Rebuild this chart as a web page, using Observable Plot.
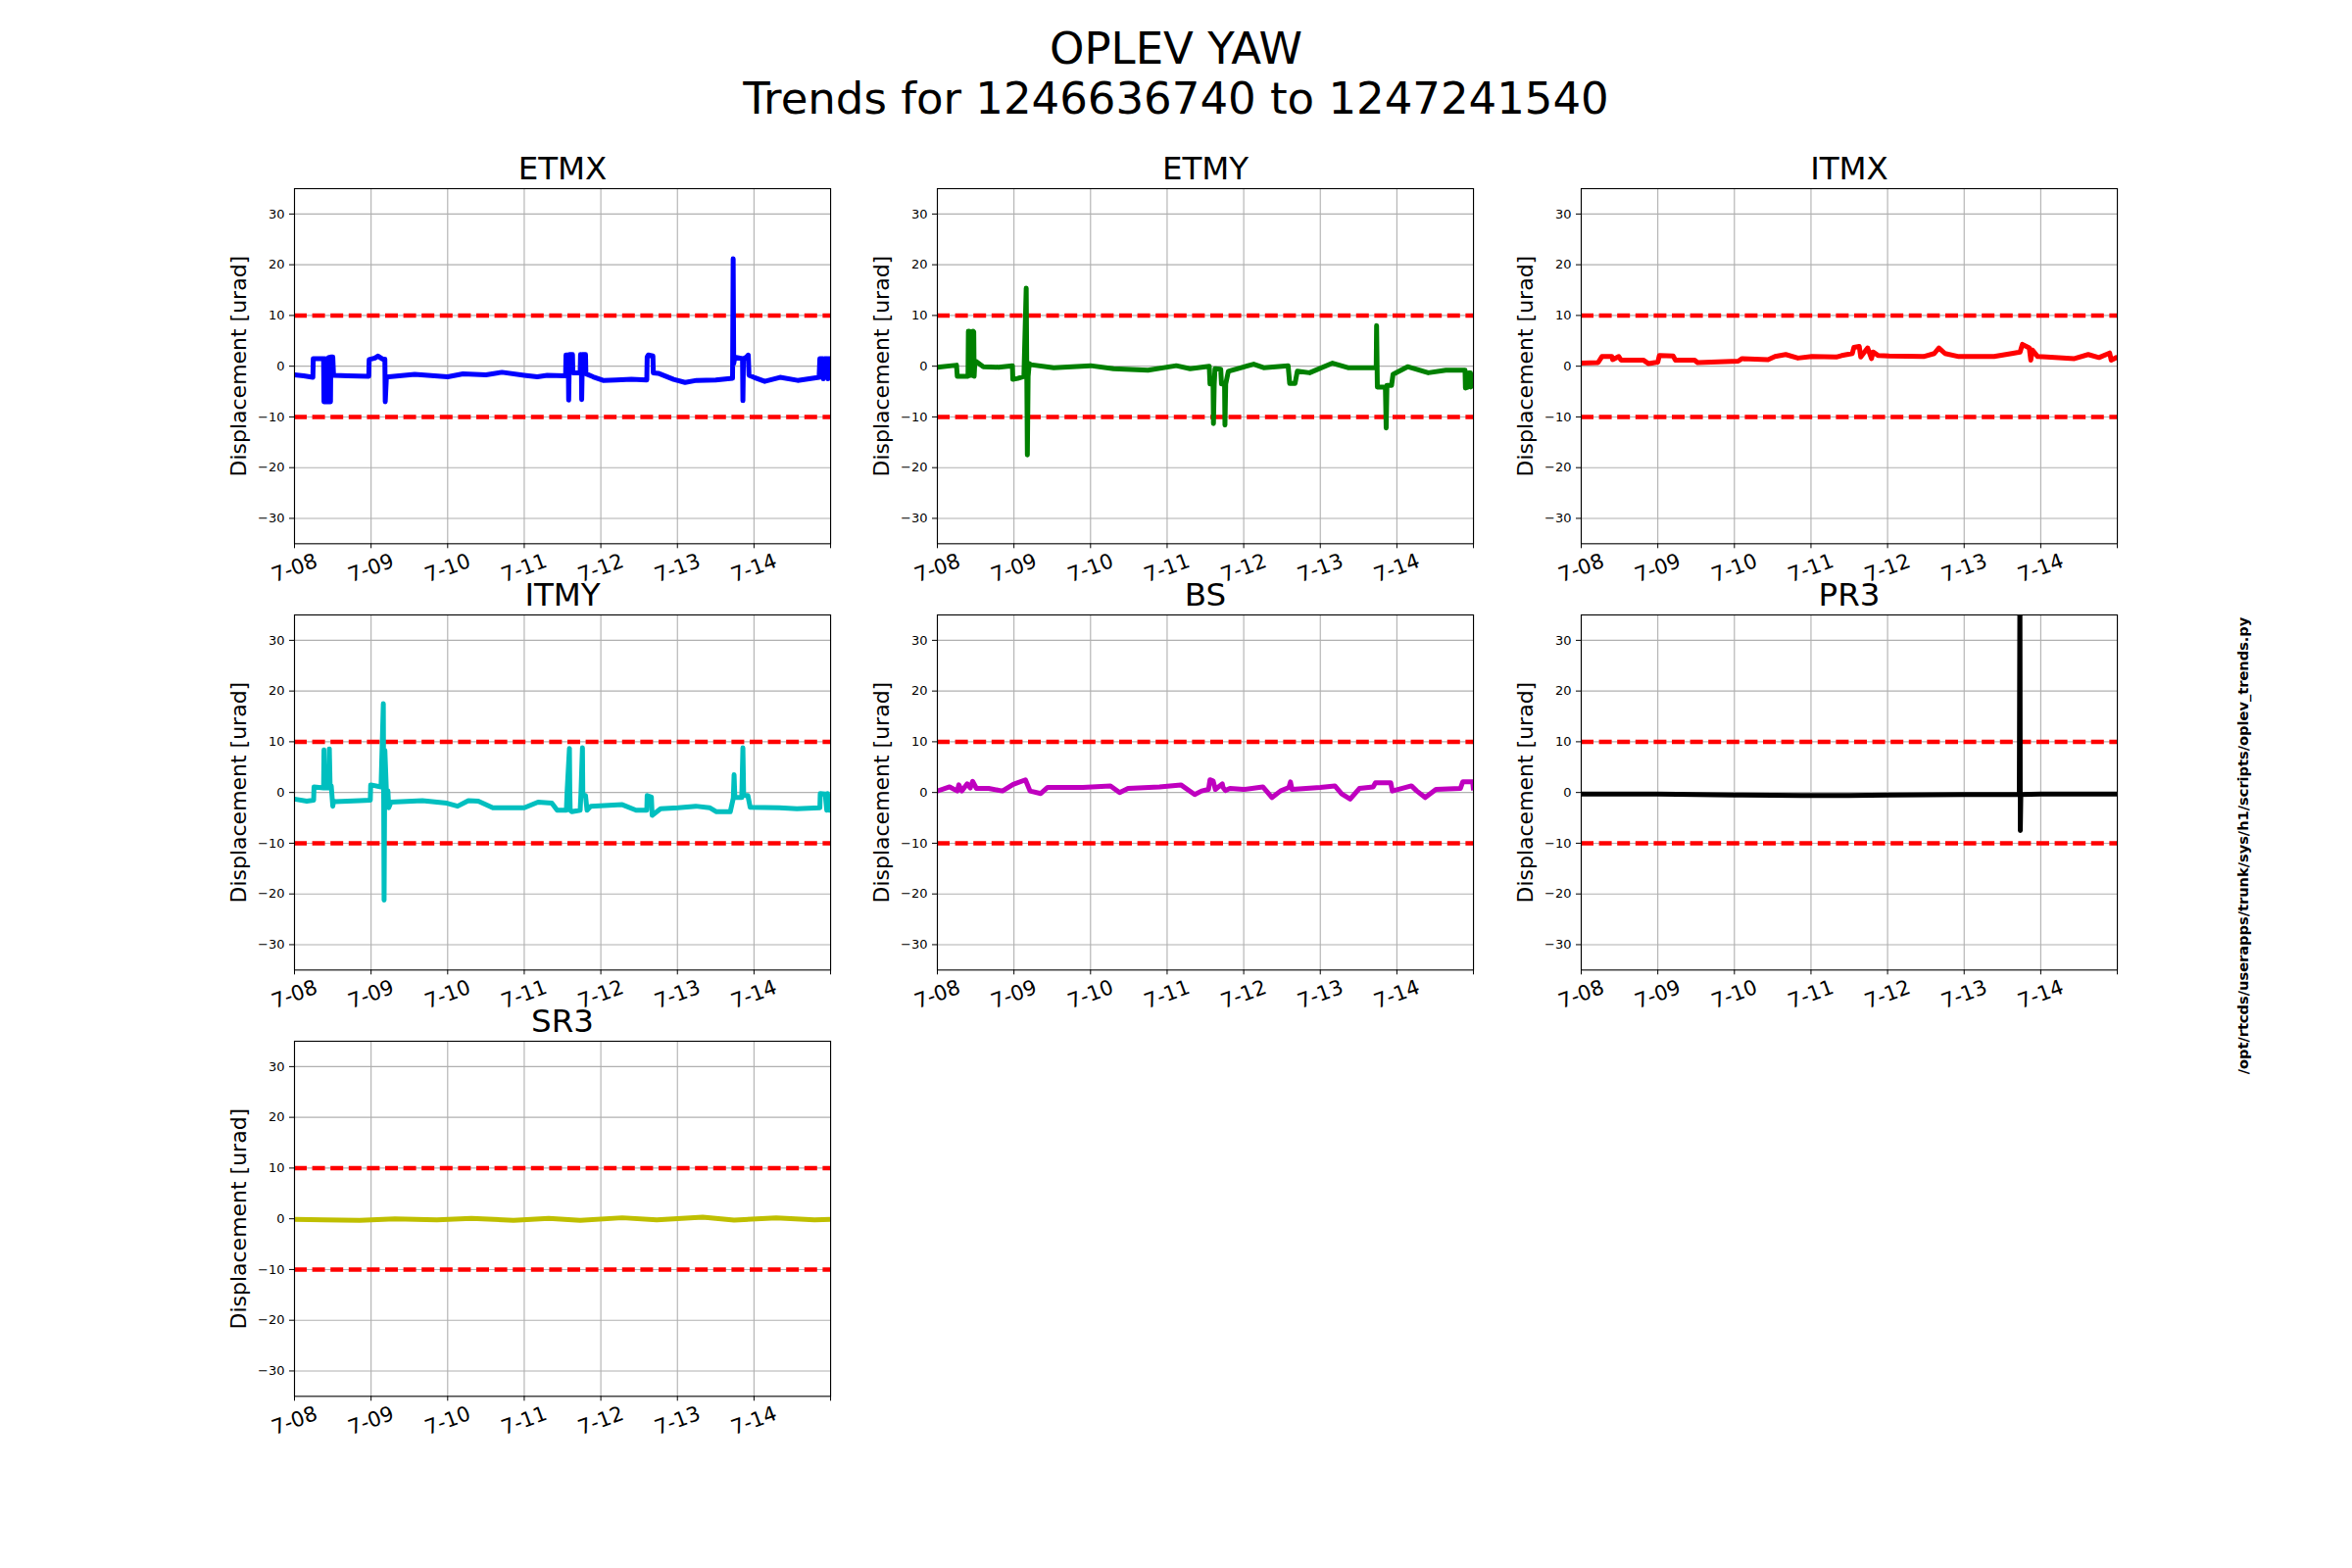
<!DOCTYPE html>
<html><head><meta charset="utf-8">
<script src="https://cdn.jsdelivr.net/npm/d3@7"></script>
<script src="https://cdn.jsdelivr.net/npm/@observablehq/plot@0.6"></script>
<style>
html,body{margin:0;padding:0;background:#fff;}
#fig{position:relative;width:2400px;height:1600px;overflow:hidden;font-family:"DejaVu Sans";background:#fff;}
.panel{position:absolute;}
.panel svg{overflow:visible;}
#overlay{position:absolute;left:0;top:0;pointer-events:none;}
</style></head><body><div id="fig"></div>
<script>
// ---- axes / labels ----
const days = [0,1,2,3,4,5,6,7];
const dayLabels = ["7-08","7-09","7-10","7-11","7-12","7-13","7-14"];
const yTicks = [-30,-20,-10,0,10,20,30];
const limits = [10,-10];
const yLabel = "Displacement [urad]";
const titleLines = ["OPLEV YAW","Trends for 1246636740 to 1247241540"];
const scriptPath = "/opt/rtcds/userapps/trunk/sys/h1/scripts/oplev_trends.py";

// ---- series (time in days since 7-08, yaw in urad) ----
const etmxT = [0,0.12,0.24,0.245,0.38,0.385,0.395,0.41,0.42,0.44,0.45,0.47,0.475,0.5,0.51,0.7,0.97,0.975,1.05,1.09,1.15,1.18,1.185,1.2,1.23,1.57,2.0,2.2,2.5,2.71,3.0,3.17,3.3,3.54,3.545,3.575,3.58,3.59,3.63,3.635,3.73,3.735,3.745,3.75,3.76,3.8,3.805,3.9,4.03,4.2,4.4,4.6,4.605,4.62,4.68,4.685,4.75,4.95,5.1,5.25,5.5,5.72,5.728,5.735,5.75,5.85,5.855,5.862,5.9,5.925,5.935,6.0,6.14,6.34,6.57,6.85,6.86,6.9,6.905,6.92,6.96,6.965,6.975,7.0];
const etmxV = [-1.7,-1.9,-2.2,1.5,1.5,-7,1.5,-7,1.5,-7,1.7,-7,1.8,1.8,-1.8,-1.9,-2.0,1.3,1.6,2.0,1.4,1.4,-7,-2.2,-2.1,-1.6,-2.1,-1.5,-1.7,-1.2,-1.8,-2.1,-1.8,-1.9,2.2,2.2,-6.7,2.3,2.3,-1.3,-1.3,2.3,2.2,-6.6,2.3,2.3,-1.5,-2.1,-2.8,-2.7,-2.6,-2.7,1.8,2.2,2.0,-1.3,-1.4,-2.6,-3.2,-2.8,-2.7,-2.4,21.2,0.5,1.8,1.5,-6.8,1.5,1.8,2.2,-1.8,-2.2,-3.0,-2.2,-2.8,-2.2,1.5,1.5,-2.5,1.5,1.5,-2.5,1.5,1.5];

const etmyT = [0,0.25,0.26,0.4,0.405,0.415,0.42,0.46,0.465,0.475,0.48,0.49,0.5,0.6,0.8,0.98,0.985,1.05,1.13,1.16,1.175,1.185,1.2,1.22,1.52,2.0,2.3,2.75,3.12,3.3,3.55,3.56,3.6,3.605,3.615,3.625,3.7,3.71,3.75,3.755,3.765,3.8,4.13,4.26,4.58,4.6,4.67,4.7,4.86,5.16,5.36,5.73,5.735,5.745,5.85,5.86,5.87,5.93,5.95,6.14,6.41,6.64,6.89,6.895,6.93,6.94,6.96,6.965,7.0];
const etmyV = [-0.2,0.2,-2.0,-2.0,6.9,6.9,-1.8,-1.8,6.9,6.8,-2.0,1.0,1.0,-0.1,-0.2,0.1,-2.6,-2.4,-2.0,15.4,-17.5,-2.0,0.5,0.3,-0.3,0.1,-0.5,-0.8,0.1,-0.5,0.0,-3.5,-3.5,-11.3,-3.5,-0.5,-0.6,-3.5,-3.5,-11.6,-3.5,-1.0,0.4,-0.3,0.1,-3.4,-3.4,-1.0,-1.3,0.6,-0.3,-0.3,8.0,-4.1,-4.1,-12.2,-3.8,-3.8,-1.6,-0.1,-1.3,-0.8,-0.8,-4.3,-4.1,-1.3,-1.3,-4.1,-1.3];

const itmxT = [0,0.22,0.27,0.4,0.41,0.49,0.52,0.81,0.88,1.0,1.02,1.2,1.23,1.48,1.52,2.05,2.1,2.44,2.53,2.67,2.83,3.01,3.33,3.4,3.54,3.56,3.63,3.65,3.74,3.79,3.81,3.88,4.02,4.47,4.61,4.67,4.75,4.93,5.39,5.62,5.73,5.76,5.85,5.87,5.89,5.96,6.08,6.44,6.62,6.76,6.9,6.92,7.0];
const itmxV = [0.6,0.7,1.9,1.9,1.3,1.9,1.2,1.2,0.5,0.8,2.1,2.0,1.2,1.2,0.7,1.0,1.5,1.3,1.9,2.3,1.6,1.9,1.8,2.1,2.5,3.7,3.9,1.8,3.6,1.5,2.8,2.1,2.0,1.9,2.5,3.6,2.5,1.9,1.9,2.5,2.8,4.3,3.6,1.2,3.2,1.9,1.8,1.5,2.3,1.7,2.6,1.2,1.8];

const itmyT = [0,0.16,0.25,0.255,0.38,0.385,0.395,0.4,0.45,0.455,0.465,0.48,0.5,0.51,0.53,0.85,0.99,0.995,1.13,1.16,1.17,1.18,1.2,1.22,1.23,1.26,1.67,1.99,2.13,2.27,2.4,2.59,3.0,3.18,3.36,3.43,3.55,3.56,3.59,3.595,3.6,3.62,3.73,3.74,3.76,3.765,3.8,3.82,3.87,4.28,4.46,4.6,4.605,4.66,4.67,4.78,5.01,5.24,5.42,5.51,5.69,5.73,5.74,5.75,5.84,5.855,5.865,5.92,5.95,6.33,6.56,6.86,6.865,6.93,6.95,6.96,6.98,7.0];
const itmyV = [-1.3,-1.7,-1.5,1.1,0.9,8.4,0.9,0.9,0.9,8.6,1.3,1.3,-2.7,-1.7,-1.8,-1.6,-1.5,1.5,1.1,17.5,-21.2,8.3,0.3,0.3,-3.0,-1.9,-1.6,-2.1,-2.7,-1.6,-1.7,-3.0,-3.0,-1.9,-2.1,-3.5,-3.5,0.2,8.7,0.2,-3.5,-3.8,-3.5,-0.4,8.8,-0.5,-0.6,-3.5,-2.7,-2.4,-3.5,-3.5,-0.6,-0.9,-4.5,-3.2,-3.0,-2.7,-3.0,-3.8,-3.8,-1.1,3.5,-1.0,-1.0,8.8,-0.6,-0.6,-2.9,-3.0,-3.2,-3.0,-0.2,-0.3,-3.5,-0.2,-3.5,-3.5];

const bsT = [0,0.16,0.26,0.28,0.32,0.39,0.43,0.46,0.51,0.67,0.85,0.99,1.15,1.21,1.35,1.44,1.9,2.26,2.38,2.49,2.9,3.18,3.36,3.45,3.54,3.56,3.6,3.63,3.72,3.73,3.76,3.82,4.0,4.25,4.37,4.48,4.59,4.61,4.63,5.0,5.19,5.28,5.39,5.51,5.69,5.72,5.92,5.94,6.19,6.26,6.37,6.51,6.83,6.86,6.99,7.0];
const bsV = [0.3,1.1,0.3,1.5,0.3,1.7,0.9,2.2,0.8,0.8,0.3,1.6,2.5,0.3,-0.2,1.0,1.0,1.3,0.0,0.8,1.1,1.5,-0.4,0.3,0.6,2.5,2.3,0.6,1.7,1.0,0.4,0.8,0.6,1.1,-1.0,0.3,1.0,2.1,0.6,1.0,1.3,-0.3,-1.3,0.8,1.1,1.9,1.9,0.3,1.3,0.3,-1.0,0.6,0.8,2.1,2.1,0.4];

const pr3T = [0,1.0,2.0,2.87,3.5,4.05,5.0,5.72,5.728,5.733,5.74,6.0,7.0];
const pr3V = [-0.3,-0.3,-0.5,-0.6,-0.6,-0.5,-0.4,-0.4,42,-7.5,-0.4,-0.3,-0.3];

const sr3T = [0,0.39,0.85,1.31,1.86,2.31,2.86,3.32,3.73,4.28,4.73,5.33,5.74,6.29,6.79,7.0];
const sr3V = [-0.1,-0.2,-0.3,0.0,-0.2,0.1,-0.3,0.1,-0.3,0.2,-0.2,0.3,-0.25,0.2,-0.2,-0.1];

const panels = [
  {name:"ETMX", t:etmxT, v:etmxV, color:"#0000ff", col:0, row:0},
  {name:"ETMY", t:etmyT, v:etmyV, color:"#008000", col:1, row:0},
  {name:"ITMX", t:itmxT, v:itmxV, color:"#ff0000", col:2, row:0},
  {name:"ITMY", t:itmyT, v:itmyV, color:"#00bfbf", col:0, row:1},
  {name:"BS",   t:bsT,   v:bsV,   color:"#bf00bf", col:1, row:1},
  {name:"PR3",  t:pr3T,  v:pr3V,  color:"#000000", col:2, row:1},
  {name:"SR3",  t:sr3T,  v:sr3V,  color:"#bfbf00", col:0, row:2}
];

// ---- layout (matplotlib 3x3 subplot grid) ----
const fig = document.getElementById("fig");
const axLeft = [300, 956.47, 1612.94];
const axTop = [192, 626.82, 1061.65];
const axW = 547.06, axH = 362.35;
const mL = 110, mR = 20, mT = 60, mB = 70;

panels.forEach(p => {
  const data = p.t.map((t, i) => ({t, v: p.v[i]}));
  const W = axW + mL + mR, H = axH + mT + mB;
  const svg = Plot.plot({
    width: W, height: H,
    marginLeft: mL, marginRight: mR, marginTop: mT, marginBottom: mB,
    x: {domain: [0, 7]},
    y: {domain: [-35, 35]},
    style: {fontFamily: "DejaVu Sans", background: "transparent", overflow: "visible", maxWidth: "none", color: "black"},
    marks: [
      Plot.gridY(yTicks, {stroke: "#b0b0b0", strokeOpacity: 1, strokeWidth: 1.1}),
      Plot.gridX(days, {stroke: "#b0b0b0", strokeOpacity: 1, strokeWidth: 1.1}),
      Plot.ruleY(limits, {stroke: "#ff0000", strokeWidth: 4.5, strokeDasharray: "13,5.6"}),
      Plot.line(data, {x: "t", y: "v", stroke: p.color, strokeWidth: 5, strokeLinejoin: "round", strokeLinecap: "butt", clip: true}),
      Plot.frame({stroke: "black", strokeWidth: 1.1}),
      Plot.axisY({ticks: yTicks, tickSize: 5, tickPadding: 5, fontSize: 13, label: null}),
      Plot.axisX({ticks: days, tickSize: 5, tickFormat: () => "", label: null}),
      Plot.text(dayLabels, {x: (d, i) => days[i], text: d => d, frameAnchor: "bottom", dy: 25, rotate: -20, fontSize: 21, textAnchor: "middle", lineAnchor: "middle", fill: "black"}),
      Plot.text([p.name], {frameAnchor: "top", dy: -9, lineAnchor: "bottom", fontSize: 32.5, fill: "black"}),
      Plot.text([yLabel], {frameAnchor: "left", dx: -57, rotate: -90, fontSize: 22, lineAnchor: "middle", textAnchor: "middle", fill: "black"})
    ]
  });
  const div = document.createElement("div");
  div.className = "panel";
  div.style.left = (axLeft[p.col] - mL) + "px";
  div.style.top = (axTop[p.row] - mT) + "px";
  div.style.width = W + "px";
  div.style.height = H + "px";
  div.appendChild(svg);
  fig.appendChild(div);
});

// ---- figure title and script path ----
const ns = "http://www.w3.org/2000/svg";
const ov = document.createElementNS(ns, "svg");
ov.setAttribute("id", "overlay");
ov.setAttribute("width", 2400);
ov.setAttribute("height", 1600);
const baselines = [65, 116];
titleLines.forEach((s, i) => {
  const t = document.createElementNS(ns, "text");
  t.setAttribute("x", 1200);
  t.setAttribute("y", baselines[i]);
  t.setAttribute("text-anchor", "middle");
  t.setAttribute("font-family", "DejaVu Sans");
  t.setAttribute("font-size", 45);
  t.textContent = s;
  ov.appendChild(t);
});
const side = document.createElementNS(ns, "text");
side.setAttribute("transform", "translate(2288,863) rotate(-90)");
side.setAttribute("text-anchor", "middle");
side.setAttribute("dominant-baseline", "central");
side.setAttribute("font-family", "DejaVu Sans");
side.setAttribute("font-weight", "bold");
side.setAttribute("font-size", 14.6);
side.textContent = scriptPath;
ov.appendChild(side);
fig.appendChild(ov);
</script></body></html>
